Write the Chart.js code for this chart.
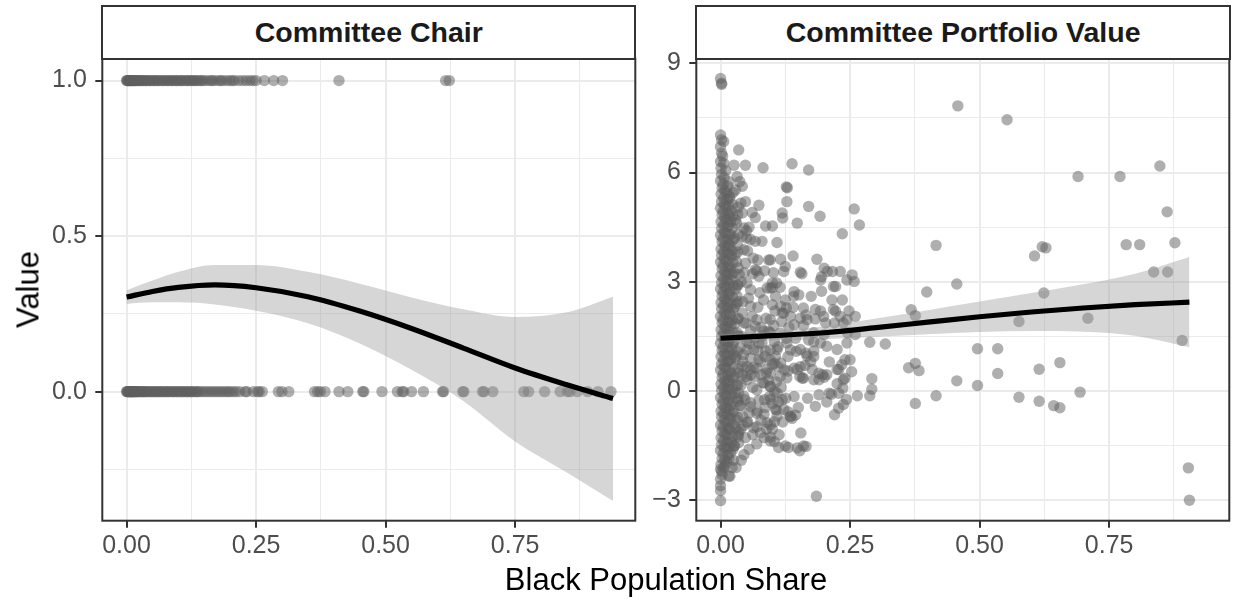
<!DOCTYPE html>
<html>
<head>
<meta charset="utf-8">
<script src="https://cdn.jsdelivr.net/npm/chart.js@4.4.1/dist/chart.umd.min.js"></script>
<style>
html,body{margin:0;padding:0;background:#fff;}
#wrap{position:relative;width:1235px;height:601px;overflow:hidden;background:#fff;font-family:'Liberation Sans',Arial,Helvetica,sans-serif;}
canvas{position:absolute;top:0;}
.strip{position:absolute;top:5px;height:54.5px;box-sizing:border-box;border:2px solid #333333;background:#fff;display:flex;align-items:center;justify-content:center;font-weight:bold;font-size:28.5px;color:#1a1a1a;white-space:nowrap;}
#ytitle{position:absolute;left:-71.9px;top:274.1px;width:200px;height:31px;line-height:31px;text-align:center;font-size:31px;color:#000;transform:rotate(-90deg);}
#xtitle{position:absolute;left:466px;top:563.5px;width:400px;height:31px;line-height:31px;text-align:center;font-size:31px;color:#000;white-space:nowrap;}
</style>
</head>
<body>
<div id="wrap">
<canvas id="c1" width="660" height="601" style="left:0px;width:660px;height:601px"></canvas>
<canvas id="c2" width="595" height="601" style="left:640px;width:595px;height:601px"></canvas>
<div class="strip" style="left:101.3px;width:535px">Committee Chair</div>
<div class="strip" style="left:695.3px;width:535.7px">Committee Portfolio Value</div>
<div id="ytitle">Value</div>
<div id="xtitle">Black Population Share</div>
</div>
<script>
// ---------- panel titles / axis ----------
const panelTitles = ['Committee Chair', 'Committee Portfolio Value'];
const xRange = [-0.0468, 0.982];
const xMajor = [0, 0.25, 0.5, 0.75];
const xMajorLabels = ['0.00', '0.25', '0.50', '0.75'];
const xMinor = [0.125, 0.375, 0.625, 0.875];

const chairRange = [-0.415, 1.071];
const chairMajor = [0, 0.5, 1.0];
const chairMajorLabels = ['0.0', '0.5', '1.0'];
const chairMinor = [-0.25, 0.25, 0.75];

const pvRange = [-3.56, 9.13];
const pvMajor = [-3, 0, 3, 6, 9];
const pvMajorLabels = ['\u22123', '0', '3', '6', '9'];
const pvMinor = [-1.5, 1.5, 4.5, 7.5];

// ---------- Committee Chair data ----------
const chairYesX = [0.000,0.001,0.002,0.003,0.004,0.005,0.006,0.007,0.008,0.009,0.010,0.011,0.012,0.013,0.015,0.016,0.017,0.019,0.021,0.023,0.024,0.027,0.029,0.030,0.033,0.036,0.038,0.039,0.043,0.045,0.047,0.051,0.053,0.055,0.059,0.061,0.063,0.068,0.070,0.072,0.077,0.079,0.081,0.086,0.088,0.090,0.095,0.097,0.099,0.104,0.106,0.108,0.113,0.116,0.118,0.122,0.125,0.127,0.131,0.134,0.136,0.141,0.144,0.147,0.152,0.158,0.163,0.166,0.171,0.178,0.182,0.186,0.193,0.199,0.204,0.208,0.216,0.224,0.231,0.238,0.244,0.250,0.266,0.284,0.301,0.410,0.616,0.623];
const chairNoX = [0.000,0.001,0.002,0.003,0.004,0.005,0.006,0.007,0.008,0.009,0.010,0.011,0.012,0.013,0.014,0.015,0.017,0.018,0.019,0.021,0.022,0.025,0.027,0.028,0.031,0.033,0.034,0.037,0.039,0.041,0.045,0.047,0.049,0.053,0.055,0.057,0.061,0.063,0.065,0.069,0.071,0.074,0.078,0.080,0.082,0.087,0.089,0.091,0.096,0.098,0.100,0.105,0.107,0.109,0.114,0.116,0.118,0.123,0.125,0.127,0.132,0.135,0.137,0.141,0.146,0.151,0.156,0.161,0.166,0.171,0.176,0.181,0.186,0.191,0.196,0.200,0.206,0.211,0.218,0.229,0.232,0.245,0.253,0.256,0.262,0.293,0.300,0.313,0.363,0.369,0.374,0.383,0.410,0.427,0.456,0.458,0.493,0.523,0.532,0.535,0.550,0.573,0.610,0.612,0.649,0.651,0.687,0.690,0.707,0.767,0.776,0.807,0.837,0.851,0.856,0.870,0.890,0.910,0.935];

const chairFitX   = [0, 0.05, 0.10, 0.17, 0.25, 0.35, 0.45, 0.55, 0.65, 0.75, 0.85, 0.939];
const chairFitY   = [0.304, 0.322, 0.335, 0.343, 0.334, 0.305, 0.259, 0.203, 0.140, 0.076, 0.022, -0.022];
const chairUpperY = [0.326, 0.357, 0.385, 0.407, 0.407, 0.385, 0.347, 0.303, 0.265, 0.240, 0.255, 0.305];
const chairLowerY = [0.282, 0.287, 0.287, 0.280, 0.260, 0.220, 0.155, 0.070, -0.030, -0.160, -0.260, -0.352];

// ---------- Committee Portfolio Value data ----------
const pvColumn = [
[0.000,-2.42],[0.002,-2.20],[0.001,-2.02],[0.003,-1.85],[0.000,-1.63],[0.002,-1.47],[0.001,-1.28],[0.003,-1.10],[0.000,-0.93],[0.002,-0.71],[0.001,-0.55],[0.003,-0.36],[0.000,-0.18],[0.002,0.02],[0.001,0.19],[0.003,0.37],[0.000,0.58],[0.002,0.74],[0.001,0.95],[0.003,1.12],[0.000,1.31],[0.002,1.50],[0.001,1.68],[0.003,1.87],[0.000,2.05],[0.002,2.26],[0.001,2.43],[0.003,2.61],[0.000,2.80],[0.002,2.98],[0.001,3.17],[0.003,3.36],[0.000,3.54],[0.002,3.73],[0.001,3.90],[0.003,4.10],[0.000,4.28],[0.002,4.47],[0.001,4.65],[0.003,4.84],[0.000,5.02],[0.002,5.20],[0.001,5.41],[0.003,5.58],[0.000,5.77],[0.002,5.95],[0.001,6.12],
[0.006,-2.10],[0.008,-1.90],[0.005,-1.72],[0.007,-1.55],[0.006,-1.36],[0.008,-1.18],[0.005,-0.99],[0.007,-0.80],[0.006,-0.62],[0.008,-0.45],[0.005,-0.26],[0.007,-0.08],[0.006,0.10],[0.008,0.28],[0.005,0.47],[0.007,0.66],[0.006,0.84],[0.008,1.03],[0.005,1.21],[0.007,1.40],[0.006,1.59],[0.008,1.77],[0.005,1.96],[0.007,2.15],[0.006,2.34],[0.008,2.52],[0.005,2.71],[0.007,2.89],[0.006,3.08],[0.008,3.27],[0.005,3.45],[0.007,3.63],[0.006,3.82],[0.008,4.00],[0.005,4.19],[0.007,4.37],[0.006,4.56],[0.008,4.75],[0.005,4.93],[0.007,5.12],[0.006,5.30],[0.008,5.50],[0.005,5.68],[0.007,5.86],
[0.012,-1.95],[0.014,-1.75],[0.011,-1.58],[0.013,-1.40],[0.012,-1.20],[0.014,-1.02],[0.011,-0.85],[0.013,-0.66],[0.012,-0.48],[0.014,-0.30],[0.011,-0.12],[0.013,0.06],[0.012,0.24],[0.014,0.43],[0.011,0.61],[0.013,0.80],[0.012,0.98],[0.014,1.17],[0.011,1.35],[0.013,1.54],[0.012,1.72],[0.014,1.91],[0.011,2.10],[0.013,2.28],[0.012,2.47],[0.014,2.65],[0.011,2.84],[0.013,3.03],[0.012,3.21],[0.014,3.40],[0.011,3.58],[0.013,3.77],[0.012,3.95],[0.014,4.14],[0.011,4.33],[0.013,4.52],[0.012,4.70],[0.014,4.88],[0.011,5.07],[0.013,5.25],[0.012,5.45],[0.014,5.62],
[0.016,-1.85],[0.017,-1.55],[0.016,-1.30],[0.017,-1.05],[0.016,-0.78],[0.017,-0.52],[0.016,-0.25],[0.017,0.02],[0.016,0.30],[0.017,0.55],[0.016,0.82],[0.017,1.08],[0.016,1.35],[0.017,1.62],[0.016,1.88],[0.017,2.15],[0.016,2.42],[0.017,2.68],[0.016,2.95],[0.017,3.22],[0.016,3.48],[0.017,3.75],[0.016,4.02],[0.017,4.28],[0.016,4.55],[0.017,4.82],[0.016,5.08],[0.017,5.35],[0.016,5.75],
[0.019,-1.70],[0.021,-1.40],[0.018,-1.05],[0.020,-0.75],[0.019,-0.40],[0.021,-0.10],[0.018,0.20],[0.020,0.50],[0.019,0.85],[0.021,1.15],[0.018,1.45],[0.020,1.80],[0.019,2.10],[0.021,2.40],[0.018,2.75],[0.020,3.05],[0.019,3.35],[0.021,3.70],[0.018,4.00],[0.020,4.30],[0.019,4.65],[0.021,4.95],[0.018,5.30],
[0.024,-1.60],[0.023,-1.25],[0.024,-0.92],[0.023,-0.60],[0.024,-0.28],[0.023,0.05],[0.024,0.35],[0.023,0.68],[0.024,1.00],[0.023,1.30],[0.024,1.62],[0.023,1.95],[0.024,2.25],[0.023,2.58],[0.024,2.90],[0.023,3.20],[0.024,3.52],[0.023,3.85],[0.024,4.15],[0.023,4.48],[0.024,4.80],[0.023,5.12],[0.024,5.45],
[0.027,-1.50],[0.029,-1.00],[0.026,-0.55],[0.028,-0.05],[0.027,0.40],[0.029,0.90],[0.026,1.35],[0.028,1.85],[0.027,2.30],[0.029,2.80],[0.026,3.25],[0.028,3.75],[0.027,4.20],[0.029,4.70],
[0.034,-1.20],[0.033,-0.72],[0.034,-0.28],[0.033,0.15],[0.034,0.62],[0.033,1.08],[0.034,1.52],[0.033,1.98],[0.034,2.45],[0.033,2.92],[0.034,3.38],[0.033,3.82],[0.034,4.30],[0.033,4.85],
[0.000,6.30],[0.004,6.45],[0.002,6.53],[0.006,6.25],[0.000,6.71],[0.006,6.85],[0.002,6.90],[0.000,7.03],[0.000,8.58],[0.002,8.45],[0.002,8.42],[0.000,-2.60],[0.000,-2.74],[0.000,-3.01],[0.018,-2.34],[0.003,-2.30],[0.000,-2.15],[0.010,6.05],[0.009,-2.05]
];
const pvSpread = [
[0.035,6.62],[0.026,6.20],[0.048,6.20],[0.082,6.13],[0.138,6.24],[0.170,6.07],[0.032,5.89],[0.029,5.52],[0.042,5.62],[0.039,5.16],[0.042,4.89],[0.074,5.10],[0.127,5.60],[0.129,5.58],[0.128,5.20],[0.119,4.89],[0.170,5.07],[0.148,4.61],[0.192,4.80],[0.067,4.76],[0.087,4.53],[0.100,4.53],[0.045,4.48],[0.058,4.16],[0.042,4.25],[0.067,4.11],[0.080,4.11],[0.109,4.08],[0.093,3.60],[0.096,3.60],[0.116,3.62],[0.125,3.42],[0.122,3.28],[0.154,3.26],[0.186,3.62],[0.200,3.37],[0.206,3.28],[0.231,3.28],[0.244,3.05],[0.193,3.05],[0.218,2.87],[0.048,3.51],[0.045,3.88],[0.051,2.97],[0.058,2.78],[0.074,3.15],[0.067,3.33],[0.090,2.83],[0.096,2.83],[0.100,2.97],[0.106,2.60],[0.116,2.33],[0.122,2.14],[0.141,2.60],[0.135,2.05],[0.160,2.28],[0.167,1.96],[0.183,2.24],[0.199,2.05],[0.218,2.24],[0.231,2.05],[0.244,1.96],[0.032,2.60],[0.042,2.14],[0.058,2.33],[0.067,1.78],[0.045,1.87],[0.084,1.64],[0.096,1.60],[0.064,1.14],[0.080,1.32],[0.087,1.10],[0.109,1.14],[0.128,1.32],[0.154,1.14],[0.167,0.96],[0.180,1.10],[0.193,1.32],[0.205,1.23],[0.225,1.14],[0.244,1.32],[0.042,0.68],[0.058,0.59],[0.051,0.31],[0.074,0.87],[0.090,0.59],[0.100,0.73],[0.116,0.77],[0.128,0.36],[0.084,0.22],[0.096,0.13],[0.109,-0.05],[0.119,-0.23],[0.148,0.59],[0.160,0.36],[0.177,0.59],[0.190,0.31],[0.205,0.45],[0.225,0.59],[0.237,0.31],[0.045,-0.14],[0.058,-0.32],[0.071,-0.55],[0.084,-0.64],[0.096,-0.23],[0.106,-0.50],[0.051,-0.87],[0.064,-1.01],[0.039,-1.05],[0.090,-0.87],[0.100,-1.05],[0.109,-0.69],[0.122,-0.50],[0.135,-0.69],[0.035,-1.42],[0.048,-1.28],[0.026,-1.51],[0.016,-2.33],[0.125,-1.51],[0.148,-1.56],[0.160,-1.51],[0.077,-1.15],[0.084,-1.28],[0.096,-1.37],
[0.222,2.19],[0.193,2.20],[0.183,1.98],[0.237,1.87],[0.220,1.87],[0.203,1.87],[0.180,1.60],[0.170,1.40],[0.180,1.35],[0.240,0.86],[0.250,0.86],[0.234,0.72],[0.228,0.59],[0.253,0.53],[0.240,0.35],[0.236,0.08],[0.228,-0.06],[0.228,-0.47],[0.243,-0.23],[0.237,-0.37],[0.210,-0.06],[0.214,-0.09],[0.190,-0.10],[0.183,-0.42],[0.197,0.45],[0.200,0.38],[0.190,0.49],[0.180,0.31],[0.158,0.35],[0.153,0.40],[0.142,0.63],[0.154,0.67],[0.174,0.81],[0.165,1.04],[0.146,1.09],[0.130,0.95],[0.135,-0.70],[0.145,-0.66],[0.138,-0.75],[0.130,-0.57],[0.131,-1.55],[0.153,-1.64],[0.165,-1.52],[0.104,-1.39],[0.096,-1.26],
[0.104,-0.84],[0.096,-0.93],[0.108,-0.52],[0.100,-0.34],[0.085,-0.24],[0.095,-0.15],[0.104,-0.02],[0.096,0.12],[0.093,0.30],[0.081,0.23],[0.070,0.03],[0.066,0.40],[0.058,0.44],[0.070,0.63],[0.077,0.81],[0.096,0.86],[0.104,0.76],[0.111,0.67],[0.123,0.58],[0.115,0.40],[0.096,0.49],[0.058,0.90],[0.051,1.13],[0.074,1.31],[0.096,1.13],[0.111,1.22],[0.104,1.36],[0.127,1.45],[0.115,1.59],[0.093,1.64],[0.081,1.52],[0.066,1.45],[0.051,1.36],[0.058,1.66],[0.049,1.87],[0.070,1.96],[0.096,1.96],[0.119,2.14],[0.127,2.28],[0.100,2.37],[0.142,1.82],[0.154,2.00],[0.165,2.09],[0.135,1.13],[0.058,-0.43],[0.070,-0.61],[0.043,-0.70],[0.052,-0.84],[0.070,-0.98],[0.035,-1.12],[0.047,-0.24],[0.035,-0.06],[0.040,0.17],[0.049,0.40],[0.051,0.67],[0.043,0.81],
[0.235,4.32],[0.120,4.75],[0.140,3.71],[0.157,3.22],[0.195,3.14],[0.216,3.28],[0.222,2.87],[0.195,2.74],[0.142,2.73],[0.151,2.64],[0.108,2.97],[0.100,2.84],[0.062,3.22],[0.070,3.30],[0.050,4.20],[0.048,5.20],[0.037,5.75],[0.050,4.40],[0.033,4.00],[0.036,3.20],[0.034,2.00],[0.038,1.20],[0.035,0.50],[0.037,-0.40],
[0.031,4.60],[0.034,5.05],[0.031,3.55],[0.033,2.90],[0.031,2.40],[0.032,1.60],[0.030,0.95],[0.031,0.20],[0.033,-0.20],[0.031,-0.80],[0.034,-1.25],[0.040,3.00],[0.043,2.45],[0.041,1.50],[0.044,1.00],[0.042,0.45],[0.039,-0.40],[0.044,-0.95],[0.046,3.25],[0.052,3.85],[0.055,4.50],[0.061,4.90],[0.063,3.65],[0.054,2.55],[0.061,2.05],[0.056,1.30],[0.063,0.65],[0.062,0.10],[0.055,-0.60],[0.062,-1.20],[0.072,3.60],[0.076,2.70],[0.072,2.30],[0.078,1.75],[0.072,1.10],[0.078,0.45],[0.074,-0.25],[0.078,-0.80],[0.085,3.30],[0.083,2.50],[0.088,2.00],[0.086,0.95],[0.088,0.50],[0.086,-0.45],[0.089,-1.05],[0.102,3.25],[0.105,2.20],[0.103,1.80],[0.106,0.95],[0.108,0.25],[0.112,-0.30],[0.113,-1.20],[0.115,2.85],[0.118,1.90],[0.117,0.10],[0.120,-0.85],[0.125,2.50],[0.132,1.75],[0.130,0.55],[0.126,-0.20],[0.140,2.30],[0.145,1.45],[0.142,-0.15],[0.150,-0.45],[0.160,1.80],[0.163,0.70],[0.168,-0.20],[0.175,2.60],[0.180,0.95],[0.200,1.55],[0.210,0.80],[0.215,2.50],[0.205,-0.30],[0.225,0.20],[0.245,1.60],[0.235,2.50],[0.248,2.20],[0.220,-0.65],[0.155,-1.15],[0.112,-1.55],[0.070,-1.45],[0.055,-1.60],[0.045,-1.75],[0.040,-1.90],[0.030,-2.10],[0.025,-1.90],[0.022,-2.10]
];
const pvOutliers = [
[0.458,7.83],[0.553,7.45],[0.848,6.18],[0.690,5.89],[0.771,5.89],[0.862,4.92],[0.877,4.07],[0.783,4.02],[0.809,4.02],[0.416,4.00],[0.621,3.96],[0.628,3.93],[0.606,3.71],[0.836,3.27],[0.863,3.27],[0.456,2.94],[0.398,2.72],[0.624,2.69],[0.258,5.00],[0.268,4.56],[0.254,3.19],[0.258,3.01],[0.576,1.91],[0.709,2.00],[0.891,1.39],[0.496,1.16],[0.535,1.16],[0.363,0.64],[0.376,0.76],[0.383,0.56],[0.456,0.28],[0.496,0.15],[0.535,0.48],[0.615,0.60],[0.655,0.78],[0.694,-0.03],[0.416,-0.13],[0.376,-0.34],[0.576,-0.17],[0.615,-0.28],[0.643,-0.40],[0.655,-0.46],[0.903,-2.11],[0.905,-3.00],[0.264,-0.13],[0.288,-0.13],[0.292,0.05],[0.292,0.34],[0.288,1.34],[0.318,1.29],[0.260,2.05],[0.260,1.55],[0.368,2.23],[0.376,2.07],[0.185,-2.89]
];

const pvFitX   = [0, 0.1, 0.2, 0.3, 0.4, 0.5, 0.6, 0.7, 0.8, 0.905];
const pvFitY   = [1.45, 1.52, 1.60, 1.74, 1.89, 2.04, 2.17, 2.28, 2.37, 2.44];
const pvUpperY = [1.56, 1.65, 1.78, 1.99, 2.22, 2.46, 2.69, 2.93, 3.22, 3.68];
const pvLowerY = [1.34, 1.39, 1.42, 1.49, 1.56, 1.62, 1.65, 1.63, 1.52, 1.20];

// ---------- styling ----------
const FONT = "'Liberation Sans', Arial, Helvetica, sans-serif";
const POINT_COLOR = 'rgba(95,95,95,0.5)';
const RIBBON_COLOR = 'rgba(153,153,153,0.4)';

function gridTicks(major, labels, minor) {
  return major.map((v, i) => ({ value: v, lbl: labels[i], minor: false }))
    .concat(minor.map(v => ({ value: v, lbl: '', minor: true })))
    .sort((a, b) => a.value - b.value);
}

function makeAxis(range, major, labels, minor, isX, fitSize) {
  return {
    type: 'linear',
    min: range[0], max: range[1],
    afterBuildTicks: s => { s.ticks = gridTicks(major, labels, minor); },
    afterFit: s => { if (isX) s.height = fitSize; else s.width = fitSize; },
    ticks: {
      autoSkip: false, maxRotation: 0, minRotation: 0,
      color: '#4d4d4d', font: { family: FONT, size: 25 },
      padding: isX ? 3 : 8.5,
      callback: (v, i, t) => (t[i] && t[i].lbl !== undefined) ? t[i].lbl : ''
    },
    grid: {
      color: '#ebebeb',
      lineWidth: c => (c.tick && c.tick.minor) ? 1 : 2,
      drawTicks: true, tickLength: 7, tickWidth: 2,
      tickColor: c => (c.tick && c.tick.minor) ? 'rgba(0,0,0,0)' : '#333333'
    },
    border: { display: false }
  };
}

const framePlugin = {
  id: 'panelFrame',
  afterDraw(chart) {
    const a = chart.chartArea, c = chart.ctx;
    c.save();
    c.strokeStyle = '#333333';
    c.lineWidth = 2;
    c.strokeRect(a.left, a.top, a.right - a.left, a.bottom - a.top);
    c.restore();
  }
};

function xy(xs, ys) { return xs.map((x, i) => ({ x: x, y: ys[i] })); }
function pairs(arr) { return arr.map(p => ({ x: p[0], y: p[1] })); }

function panel(canvasId, points, fitX, fitY, upY, loY, yRange, yMajor, yLabels, yMinor, yAxisWidth, rightPad) {
  return new Chart(document.getElementById(canvasId), {
    type: 'scatter',
    data: {
      datasets: [
        { label: 'fit', data: xy(fitX, fitY), showLine: true, borderColor: '#000000', borderWidth: 5.2,
          pointRadius: 0, fill: false, cubicInterpolationMode: 'monotone', order: 1 },
        { label: 'upper', data: xy(fitX, upY), showLine: true, borderColor: 'rgba(0,0,0,0)', borderWidth: 1,
          pointRadius: 0, backgroundColor: RIBBON_COLOR, fill: '+1', cubicInterpolationMode: 'monotone', order: 2 },
        { label: 'lower', data: xy(fitX, loY), showLine: true, borderColor: 'rgba(0,0,0,0)', borderWidth: 1,
          pointRadius: 0, fill: false, cubicInterpolationMode: 'monotone', order: 2 },
        { label: 'points', data: points, showLine: false, pointRadius: 5.7, pointBorderWidth: 0,
          pointBackgroundColor: POINT_COLOR, pointBorderColor: 'rgba(0,0,0,0)', order: 3 }
      ]
    },
    options: {
      responsive: false, maintainAspectRatio: false, devicePixelRatio: 1,
      animation: false, events: [],
      layout: { padding: { left: 0, top: 58.5, right: rightPad, bottom: 0 } },
      plugins: { legend: { display: false }, tooltip: { enabled: false }, title: { display: false } },
      scales: {
        x: makeAxis(xRange, xMajor, xMajorLabels, xMinor, true, 80.3),
        y: makeAxis(yRange, yMajor, yLabels, yMinor, false, yAxisWidth)
      }
    },
    plugins: [framePlugin]
  });
}

const chairPoints = xy(chairYesX, chairYesX.map(() => 1)).concat(xy(chairNoX, chairNoX.map(() => 0)));
panel('c1', chairPoints, chairFitX, chairFitY, chairUpperY, chairLowerY,
      chairRange, chairMajor, chairMajorLabels, chairMinor, 102.3, 24.7);

const pvPoints = pairs(pvColumn).concat(pairs(pvSpread), pairs(pvOutliers));
panel('c2', pvPoints, pvFitX, pvFitY, pvUpperY, pvLowerY,
      pvRange, pvMajor, pvMajorLabels, pvMinor, 56.3, 5);
</script>
</body>
</html>
